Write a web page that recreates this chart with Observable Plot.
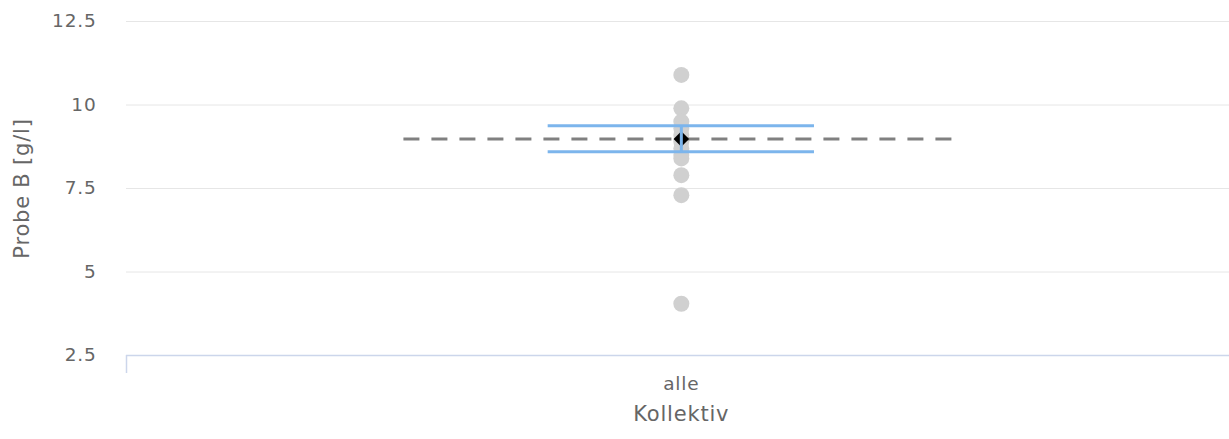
<!DOCTYPE html>
<html>
<head>
<meta charset="utf-8">
<script src="https://cdn.jsdelivr.net/npm/d3@7"></script>
<script src="https://cdn.jsdelivr.net/npm/@observablehq/plot@0.6"></script>
<style>
  html, body { margin: 0; padding: 0; background: #fff; }
  #chart { width: 1229px; height: 439px; }
</style>
</head>
<body>
<div id="chart"></div>
<script>
// ---- data ----
const categories = ["alle"];
const values = [10.9, 9.9, 9.5, 9.3, 9.1, 8.9, 8.7, 8.5, 8.4, 7.9, 7.3, 4.05];
const meanValue = [8.98];
const ciLower = [8.6];
const ciUpper = [9.38];
const yTicks = [2.5, 5, 7.5, 10, 12.5];
const gridTicks = [5, 7.5, 10, 12.5];
const yTitle = "Probe B [g/l]";
const xTitle = "Kollektiv";

const points = values.map(v => ({cat: 0, value: v}));
const font = "DejaVu Sans";

const chart = Plot.plot({
  width: 1229,
  height: 439,
  marginLeft: 126,
  marginRight: 0,
  marginTop: 21,
  marginBottom: 84,
  style: {fontFamily: font, fontSize: "18px", color: "#666", background: "#fff", letterSpacing: "0.8px"},
  x: {type: "linear", domain: [-0.5, 0.494], label: null},
  y: {domain: [2.5, 12.5], label: null},
  marks: [
    Plot.gridY(gridTicks, {stroke: "#e6e6e6", strokeOpacity: 1, strokeWidth: 1}),
    Plot.ruleY([yTicks[0]], {stroke: "#ccd6eb", strokeWidth: 1.5}),
    Plot.axisX([-0.5], {tickSize: 18, stroke: "#ccd6eb", strokeWidth: 1.5, tickFormat: () => "", label: null}),
    Plot.axisX([0], {tickSize: 0, tickPadding: 21, fill: "#666", fontSize: 18.5, tickFormat: i => categories[i], label: null}),
    Plot.axisY(yTicks, {tickSize: 0, tickPadding: 30, fill: "#666", fontSize: 18.5, tickFormat: d => String(d), label: null}),
    Plot.dot(points, {x: "cat", y: "value", r: 8, fill: "#d0d0d0"}),
    Plot.ruleY(meanValue, {x1: -0.25, x2: 0.25, stroke: "#808080", strokeWidth: 3, strokeDasharray: "16,12"}),
    Plot.ruleY([...ciLower, ...ciUpper], {x1: -0.12, x2: 0.12, stroke: "#7cb5ec", strokeWidth: 3}),
    Plot.dot(meanValue, {x: 0, y: d => d, symbol: "diamond2", r: 7, fill: "#000"}),
    Plot.ruleX([0], {y1: ciLower[0], y2: ciUpper[0], stroke: "#7cb5ec", strokeWidth: 3}),
    Plot.text([xTitle], {x: 0, frameAnchor: "bottom", dy: 65, fontSize: 21, fill: "#666"}),
    Plot.text([yTitle], {frameAnchor: "left", textAnchor: "middle", dx: -104, rotate: -90, fontSize: 21, fill: "#666"})
  ]
});
document.getElementById("chart").appendChild(chart);
</script>
</body>
</html>
